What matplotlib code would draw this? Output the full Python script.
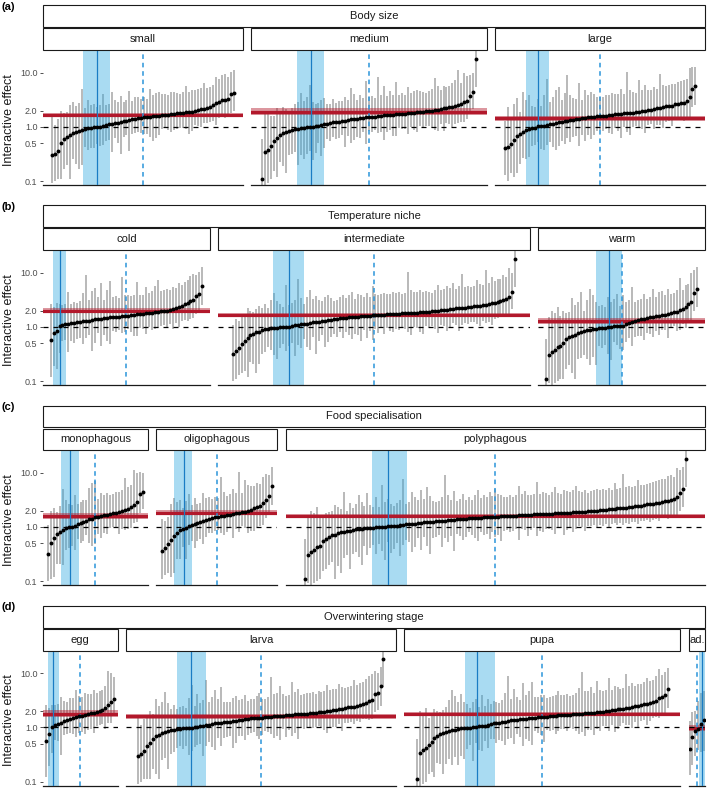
import matplotlib
matplotlib.use("Agg")
import matplotlib.pyplot as plt
from matplotlib.patches import Rectangle
from matplotlib.ticker import NullLocator
import numpy as np

plt.rcParams["font.family"] = ["Liberation Sans", "DejaVu Sans"]

# species posterior medians of the interactive effect (sorted) and 95% intervals
median = [
    0.11, 0.30, 0.32, 0.34, 0.36, 0.38, 0.40, 0.42, 0.45, 0.48,
    0.51, 0.54, 0.57, 0.60, 0.63, 0.66, 0.68, 0.70, 0.72, 0.74,
    0.76, 0.78, 0.79, 0.81, 0.82, 0.84, 0.85, 0.86, 0.88, 0.89,
    0.90, 0.91, 0.92, 0.93, 0.94, 0.95, 0.96, 0.96, 0.97, 0.97,
    0.98, 0.98, 0.99, 0.99, 1.00, 1.00, 1.02, 1.03, 1.03, 1.05,
    1.05, 1.06, 1.08, 1.08, 1.09, 1.11, 1.11, 1.12, 1.14, 1.15,
    1.15, 1.16, 1.18, 1.18, 1.19, 1.21, 1.22, 1.22, 1.23, 1.25,
    1.25, 1.26, 1.28, 1.28, 1.29, 1.31, 1.31, 1.32, 1.34, 1.34,
    1.35, 1.37, 1.37, 1.38, 1.39, 1.40, 1.42, 1.42, 1.43, 1.44,
    1.45, 1.46, 1.46, 1.48, 1.49, 1.49, 1.50, 1.51, 1.52, 1.52,
    1.53, 1.54, 1.55, 1.55, 1.56, 1.57, 1.58, 1.58, 1.59, 1.60,
    1.61, 1.61, 1.62, 1.63, 1.64, 1.64, 1.65, 1.66, 1.67, 1.68,
    1.68, 1.69, 1.70, 1.71, 1.71, 1.72, 1.73, 1.74, 1.74, 1.75,
    1.76, 1.77, 1.77, 1.78, 1.79, 1.80, 1.81, 1.81, 1.82, 1.83,
    1.84, 1.85, 1.86, 1.87, 1.88, 1.89, 1.90, 1.92, 1.92, 1.94,
    1.95, 1.96, 1.98, 1.99, 2.00, 2.02, 2.03, 2.05, 2.07, 2.09,
    2.10, 2.13, 2.14, 2.17, 2.19, 2.20, 2.23, 2.25, 2.27, 2.30,
    2.32, 2.34, 2.37, 2.40, 2.42, 2.46, 2.48, 2.52, 2.55, 2.59,
    2.62, 2.66, 2.71, 2.75, 2.81, 2.86, 2.92, 2.99, 3.04, 3.10,
    3.18, 3.30, 3.50, 3.70, 4.00, 4.20, 4.40, 5.10, 5.80, 18.0,
]
lower = [
    0.06, 0.09, 0.10, 0.08, 0.11, 0.09, 0.13, 0.10, 0.11, 0.14,
    0.11, 0.15, 0.12, 0.17, 0.12, 0.20, 0.14, 0.22, 0.11, 0.21,
    0.19, 0.25, 0.14, 0.27, 0.21, 0.30, 0.17, 0.26, 0.32, 0.20,
    0.35, 0.28, 0.42, 0.20, 0.38, 0.45, 0.30, 0.40, 0.26, 0.46,
    0.40, 0.31, 0.48, 0.36, 0.24, 0.44, 0.52, 0.33, 0.47, 0.39,
    0.50, 0.37, 0.55, 0.29, 0.46, 0.58, 0.41, 0.53, 0.35, 0.60,
    0.43, 0.56, 0.62, 0.38, 0.51, 0.65, 0.45, 0.59, 0.31, 0.63,
    0.55, 0.66, 0.48, 0.70, 0.42, 0.61, 0.72, 0.52, 0.68, 0.36,
    0.64, 0.74, 0.50, 0.69, 0.77, 0.58, 0.66, 0.45, 0.80, 0.71,
    0.62, 0.78, 0.56, 0.82, 0.70, 0.48, 0.75, 0.84, 0.60, 0.73,
    0.80, 0.66, 0.86, 0.72, 0.54, 0.83, 0.77, 0.88, 0.63, 0.79,
    0.85, 0.70, 0.90, 0.58, 0.81, 0.92, 0.76, 0.87, 0.67, 0.94,
    0.74, 0.89, 0.95, 0.68, 0.84, 0.97, 0.79, 0.91, 0.62, 0.93,
    0.86, 0.98, 0.75, 0.92, 1.00, 0.82, 0.95, 0.70, 0.99, 0.88,
    0.96, 0.80, 1.02, 0.91, 0.73, 1.04, 0.94, 0.99, 0.85, 1.06,
    0.90, 1.05, 0.78, 1.08, 0.97, 1.10, 0.87, 1.03, 1.12, 0.83,
    1.00, 1.14, 0.92, 1.16, 1.07, 0.84, 1.18, 1.09, 1.20, 0.95,
    1.13, 1.22, 0.99, 1.25, 1.15, 1.28, 1.02, 1.30, 1.19, 1.33,
    1.24, 1.36, 1.10, 1.40, 1.30, 1.45, 1.21, 1.50, 1.38, 1.55,
    1.45, 1.60, 1.52, 1.75, 1.80, 1.95, 2.10, 2.30, 2.50, 5.50,
]
upper = [
    0.60, 1.5, 1.1, 2.0, 1.4, 1.8, 1.3, 2.3, 1.6, 1.5,
    2.0, 1.6, 2.6, 1.8, 2.2, 1.9, 3.4, 2.0, 2.5, 1.9,
    2.3, 2.9, 2.1, 4.5, 2.4, 2.0, 2.8, 3.2, 2.2, 5.0,
    2.6, 3.8, 2.2, 2.9, 3.1, 2.4, 4.2, 2.5, 3.0, 2.3,
    2.7, 3.5, 2.3, 6.0, 2.9, 2.5, 3.3, 2.6, 4.1, 2.4,
    2.8, 3.9, 2.5, 3.2, 7.5, 2.6, 3.4, 2.9, 4.4, 2.7,
    3.6, 2.7, 3.1, 4.8, 2.9, 3.3, 5.5, 2.8, 3.7, 3.0,
    3.2, 2.9, 4.3, 3.0, 3.5, 9.0, 3.1, 3.8, 3.2, 4.6,
    3.4, 3.0, 5.2, 3.3, 3.6, 4.0, 3.2, 6.5, 3.5, 3.1,
    3.9, 3.3, 4.7, 3.4, 3.8, 7.0, 3.5, 3.6, 4.4, 3.3,
    3.7, 5.0, 3.4, 4.0, 3.9, 3.6, 8.5, 3.5, 4.2, 3.8,
    3.6, 4.4, 3.8, 5.8, 3.7, 4.1, 3.9, 4.6, 3.8, 4.0,
    4.3, 3.9, 4.0, 6.8, 4.1, 3.8, 4.5, 4.2, 5.1, 3.9,
    4.4, 4.0, 5.4, 4.2, 4.3, 10.5, 4.1, 4.7, 4.4, 4.6,
    4.5, 4.8, 4.2, 5.6, 4.4, 4.6, 7.2, 4.5, 4.9, 4.3,
    4.7, 4.6, 6.0, 4.8, 5.0, 4.7, 8.0, 5.1, 4.9, 5.8,
    5.2, 4.9, 5.5, 6.4, 5.1, 5.6, 5.3, 9.5, 5.4, 5.9,
    5.8, 5.5, 6.6, 5.7, 7.4, 5.9, 6.2, 6.0, 11.0, 6.3,
    6.5, 6.8, 8.2, 6.9, 7.3, 7.8, 10.0, 7.5, 8.8, 9.0,
    9.5, 8.4, 12.0, 9.2, 10.5, 11.0, 10.0, 12.5, 13.0, 30.0,
]

# trait of each species (same order as median)
body = ("MSSMSMLLML" "SMLSMSLMSL" "MSMLSMSLMS" "MLSMSLMSML" "SMSM"
        "MSLMSLMLSM" "LSMLSMLMSL" "SMLMSMLSLM" "MLSLMSLSML" "SMMLSLMSLM"
        "LMSMLSMSML" "SLMLSMLSLM" "MSLMMSLSLM" "LMSMLMSLMS" "MLSLLMSMLS"
        "SMLMSMLMLS" "MLMSLMSMLS" "LMSLMLMSML" "MLLSMLMLSL" "LSMLMS"
        "SSLMSSMLLM")
temp = ("WWIWIWIWWI" "WICWIWWIWI" "CWIWIWCWIW" "IWIWIWIWIW" "IWII"
        "WIWCWWIWCI" "ICIWCIICWI" "CIWCICIWCI" "ICCIWCIICW" "CWICICIWCI"
        "ICWCIICWCI" "IWCIICIWCI" "CIIWCIIWIC" "ICIIWCIICI" "CIWIICIIWC"
        "IICIWIICIC" "CIWICIIWCI" "IICIIWIICI" "ICIIIWICII" "CIWICI"
        "CIICCWIWCI")
food = ("ppmpopoppo" "mpopmpoppm" "poppmppopm" "ppopmpppop" "mppp"
        "pmppoppmop" "ppoppmpopp" "mppoppmpop" "ppmpppopmp" "oppmpppopp"
        "pmpopmppop" "ppopmppopp" "opmppomppp" "pmppoppmpo" "poppmpppop"
        "mpopppmpop" "ppmppoppmp" "popppmppop" "ppopmpppop" "ppmppp"
        "oppompmpop")
stage = ("PLLPLPAPLP" "LPELPALPLP" "ELPLPALPLP" "LPLPALPLPL" "PLPL"
         "PLPELPLPPL" "LEPLAPLEPL" "PLLPELPLPL" "LPELLAPEPL" "PLPPELPLPL"
         "LPEPLLPELP" "PLLPLEPLPL" "ELPPLPELPL" "PPLELPPLPL" "LPEPLPLELP"
         "PLPLPELPLP" "LEPLPPLEPL" "PLPPLEPLPL" "LPPLEPLPPL" "PLEPLP"
         "LEPPPLLPLL")

panel_name = ["small", "medium", "large", "cold", "intermediate", "warm",
              "monophagous", "oligophagous", "polyphagous",
              "egg", "larva", "pupa", "ad."]
panel_code = ["S", "M", "L", "C", "I", "W", "m", "o", "p", "E", "L", "P", "A"]
# group-level mean effect (red) with interval
mean_eff = [1.66, 1.91, 1.44, 1.99, 1.64, 1.30, 1.61, 1.83, 1.57, 1.78, 1.61, 1.73, 0.98]
mean_lo = [1.51, 1.66, 1.30, 1.81, 1.49, 1.15, 1.42, 1.63, 1.45, 1.55, 1.45, 1.59, 0.85]
mean_hi = [1.83, 2.20, 1.60, 2.19, 1.80, 1.47, 1.83, 2.05, 1.70, 2.05, 1.79, 1.89, 1.13]
# rank where effect crosses 1 (blue) with interval
cross_at = [15.2, 16.5, 11.0, 3.1, 18.9, 21.3, 7.5, 7.3, 28.0, 2.2, 17.7, 20.4, 4.2]
cross_lo = [10.5, 11.9, 6.9, 0.9, 13.5, 16.8, 4.5, 4.2, 22.5, 0.5, 13.2, 16.3, 3.3]
cross_hi = [19.5, 20.8, 14.9, 5.3, 23.9, 25.6, 10.6, 10.3, 34.3, 4.2, 22.9, 26.5, 5.8]

rows = [("(a)", "Body size", body, [0, 1, 2]),
        ("(b)", "Temperature niche", temp, [3, 4, 5]),
        ("(c)", "Food specialisation", food, [6, 7, 8]),
        ("(d)", "Overwintering stage", stage, [9, 10, 11, 12])]

W, H = 709, 789
ROW_TOP = [0, 200, 400, 600.5]
LEFT, RIGHT, GAP = 43, 705, 8.5
GREY = "#B0B0B0"
BLUE = "#2AA7E0"
BLUE_LINE = "#1A7CC4"
BLUE_DASH = "#2B95DA"
RED = "#B2182B"
INK = "#1A1A1A"

fig = plt.figure(figsize=(W / 100, H / 100), dpi=100)


def frac(x0, y0, x1, y1):
    return [x0 / W, 1 - y1 / H, (x1 - x0) / W, (y1 - y0) / H]


def strip(x0, y0, x1, y1, text):
    l, b, w, h = frac(x0, y0, x1, y1)
    fig.add_artist(Rectangle((l, b), w, h, transform=fig.transFigure,
                             facecolor="white", edgecolor=INK, lw=0.8))
    fig.text(l + w / 2, b + h / 2, text, ha="center", va="center",
             fontsize=8, color=INK)


med = np.array(median)
lo = np.array(lower)
hi = np.array(upper)

for r, (tag, title, codes, panels) in enumerate(rows):
    top = ROW_TOP[r]
    fig.text(2 / W, 1 - (top + 7) / H, tag, fontsize=8, fontweight="bold",
             ha="left", va="center")
    fig.text(9 / W, 1 - (top + 120) / H, "Interactive effect", rotation=90,
             fontsize=9, ha="center", va="center", color=INK)
    strip(LEFT, top + 5.5, RIGHT, top + 27, title)

    idx_list = [np.array([i for i, c in enumerate(codes) if c == panel_code[p]])
                for p in panels]
    units = np.array([len(ix) - 1 for ix in idx_list], dtype=float)
    avail = RIGHT - LEFT - GAP * (len(panels) - 1)
    widths = avail * units / units.sum()

    x0 = LEFT
    for j, (p, ix) in enumerate(zip(panels, idx_list)):
        x1 = x0 + widths[j]
        strip(x0, top + 28.5, x1, top + 50, panel_name[p])

        order = np.argsort(med[ix], kind="stable")
        m, l, h = med[ix][order], lo[ix][order], hi[ix][order]
        n = len(m)
        xs = np.arange(n)

        ax = fig.add_axes(frac(x0, top + 50, x1, top + 185))
        ax.set_yscale("log")
        ax.set_ylim(0.0844, 26.3)
        ax.set_xlim(-0.05 * (n - 1), 1.05 * (n - 1))

        ax.vlines(xs, l, h, color=GREY, lw=1.25, zorder=1)
        ax.axvspan(cross_lo[p], cross_hi[p], color=BLUE, alpha=0.4, lw=0, zorder=2)
        ax.axhspan(mean_lo[p], mean_hi[p], color=RED, alpha=0.45, lw=0, zorder=3)
        ax.axhline(mean_eff[p], color=RED, lw=2.3, zorder=3)
        ax.axhline(1, color="black", lw=0.9, ls=(0, (4, 4)), zorder=4)
        ax.axvline(cross_at[p], color=BLUE_LINE, lw=0.9, zorder=4)
        ax.axvline((n - 1) / 2, color=BLUE_DASH, lw=1.1, ls=(0, (3, 2.5)), zorder=4)
        ax.plot(xs, m, "o", color="black", ms=2.8, mew=0, zorder=5)

        for s in ["top", "right", "left"]:
            ax.spines[s].set_visible(False)
        ax.spines["bottom"].set_linewidth(0.9)
        ax.spines["bottom"].set_color(INK)
        ax.set_xticks([])
        ax.yaxis.set_minor_locator(NullLocator())
        if j == 0:
            ax.set_yticks([0.1, 0.5, 1.0, 2.0, 10.0])
            ax.set_yticklabels(["0.1", "0.5", "1.0", "2.0", "10.0"])
            ax.tick_params(axis="y", length=2.5, width=0.6, color="#333333",
                           labelsize=6.5, labelcolor="#4D4D4D", pad=1.5)
        else:
            ax.tick_params(axis="y", which="both", left=False, labelleft=False)
        x0 = x1 + GAP

fig.savefig("out.png", dpi=100)
